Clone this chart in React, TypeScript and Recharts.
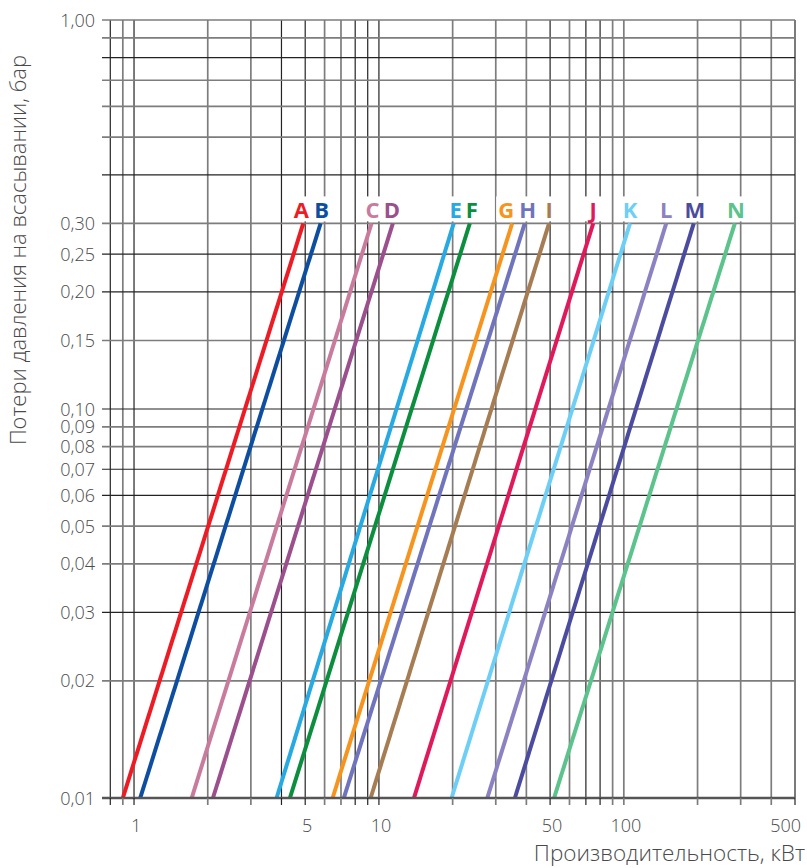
import React from 'react';
import { LineChart, Line, XAxis, YAxis, ReferenceLine, LabelList } from 'recharts';

// ---- data ----
const seriesNames = ['A', 'B', 'C', 'D', 'E', 'F', 'G', 'H', 'I', 'J', 'K', 'L', 'M', 'N'];
const seriesColors = [
  '#ed1c24', '#0d4ea0', '#c97b9d', '#9c4f8d', '#27a9e1', '#0b8f3f', '#f7941d',
  '#6f74bc', '#a67c52', '#e01a5a', '#6dcff6', '#8c82c1', '#4b4c9f', '#5bc38b',
];
// capacity (kW) at the lowest pressure loss (0.01 bar)
const capacityAtMin = [0.90, 1.06, 1.72, 2.10, 3.82, 4.33, 6.47, 7.19, 9.25, 13.9, 19.8, 27.7, 35.9, 51.9];
// capacity (kW) at the highest pressure loss (0.30 bar)
const capacityAtMax = [4.91, 5.78, 9.33, 11.4, 20.2, 23.5, 35.0, 39.4, 49.5, 75.0, 106, 149, 193, 284];
const pressureRange = [0.01, 0.3];

const xGridValues = [0.8, 0.9, 1, 2, 3, 4, 5, 6, 7, 8, 9, 10, 20, 30, 40, 50, 60, 70, 80, 90, 100, 200, 300, 400, 500];
const xTickLabels = [1, 5, 10, 50, 100, 500];
const yGridValues = [0.01, 0.02, 0.03, 0.04, 0.05, 0.06, 0.07, 0.08, 0.09, 0.1, 0.15, 0.2, 0.25, 0.3, 0.4, 0.5, 0.6, 0.7, 0.8, 0.9, 1.0];
const yTickLabels = [0.01, 0.02, 0.03, 0.04, 0.05, 0.06, 0.07, 0.08, 0.09, 0.1, 0.15, 0.2, 0.25, 0.3, 1.0];

const xDomain = [0.74, 500];
const yDomain = [0.01, 1];

// ---- styling ----
const labelNudge = [-2, 1, 1, -1, 2, 2, -6, 3, 0, 0, 0, 0, 1, 1];
const darkX = new Set([0.8, 1, 4, 5, 8, 9, 10, 50, 70, 80, 500]);
const darkY = new Set([0.8, 0.4, 0.25, 0.2, 0.1, 0.07, 0.06, 0.03]);
const DARK = { stroke: '#232323', strokeWidth: 1.2 };
const GRAY = { stroke: '#7d7d7d', strokeWidth: 1.7 };
const TEXT_COLOR = '#4a4a4a';
const FONT = '"Open Sans", "Noto Sans", sans-serif';

const fmtY = (v: number) => v.toFixed(2).replace('.', ',');

const XTick = (props: any) => {
  const { x, y, payload } = props;
  const v = payload.value;
  const st = darkX.has(v) ? DARK : GRAY;
  const isLast = v === xGridValues[xGridValues.length - 1];
  return (
    <g>
      <line x1={x} x2={x} y1={y - 7} y2={y} stroke={st.stroke} strokeWidth={st.strokeWidth} />
      {xTickLabels.includes(v) && (
        <text
          x={isLast ? x + 6 : x + 2}
          y={y + 27}
          textAnchor={isLast ? 'end' : 'middle'}
          fontSize={18}
          fontFamily={FONT}
          fontWeight={300}
          fill={TEXT_COLOR}
        >
          {v}
        </text>
      )}
    </g>
  );
};

const YTick = (props: any) => {
  const { x, y, payload } = props;
  const v = payload.value;
  if (!yTickLabels.includes(v)) return <g />;
  return (
    <text x={x} y={y + 6.5} textAnchor="end" fontSize={18} fontFamily={FONT} fontWeight={300} fill={TEXT_COLOR}>
      {fmtY(v)}
    </text>
  );
};

const makeLabel = (name: string, color: string, nudge: number) => (props: any) => {
  const { x, y, index } = props;
  if (index !== 1) return <g />;
  const cx = x + nudge;
  return (
    <g>
      <rect x={cx - 10} y={y - 27} width={20} height={25} fill="#ffffff" />
      <text x={cx} y={y - 5} textAnchor="middle" fontSize={22} fontWeight={700} fontFamily={FONT} fill={color}>
        {name}
      </text>
    </g>
  );
};

const seriesData = seriesNames.map((name, i) => ({
  name,
  color: seriesColors[i],
  nudge: labelNudge[i],
  points: [
    { x: capacityAtMin[i], y: pressureRange[0] },
    { x: capacityAtMax[i], y: pressureRange[1] },
  ],
}));

export default function App() {
  return (
    <div style={{ position: 'absolute', left: 0, top: 0, width: 807, height: 868, background: '#fff' }}>
      <LineChart width={807} height={868} margin={{ top: 20, right: 12, bottom: 0, left: 0 }}>
        <XAxis
          dataKey="x"
          type="number"
          scale="log"
          domain={xDomain}
          allowDataOverflow
          ticks={xGridValues}
          interval={0}
          tickSize={7}
          tickMargin={0}
          tickLine={false}
          tick={<XTick />}
          axisLine={{ stroke: '#555555', strokeWidth: 2.5 }}
          height={70}
          label={{
            value: 'Производительность, кВт',
            content: (p: any) => {
              const vb = p.viewBox;
              return (
                <text x={vb.x + vb.width + 10} y={vb.y + 63} textAnchor="end" fontSize={22.5} fontFamily={FONT} fontWeight={300} fill={TEXT_COLOR}>
                  Производительность, кВт
                </text>
              );
            },
          }}
        />
        <YAxis
          dataKey="y"
          type="number"
          scale="log"
          domain={yDomain}
          allowDataOverflow
          ticks={yGridValues}
          interval={0}
          tickSize={0}
          tickMargin={7}
          tickLine={false}
          axisLine={false}
          tick={<YTick />}
          width={102}
          label={{
            value: 'Потери давления на всасывании, бар',
            content: (p: any) => {
              const vb = p.viewBox;
              const cx = vb.x + 26;
              const cy = vb.y + 230;
              return (
                <text x={cx} y={cy} transform={`rotate(-90 ${cx} ${cy})`} textAnchor="middle" fontSize={22} fontFamily={FONT} fontWeight={300} fill={TEXT_COLOR}>
                  Потери давления на всасывании, бар
                </text>
              );
            },
          }}
        />
        {xGridValues.map((v) => (
          <ReferenceLine key={'x' + v} x={v} {...(darkX.has(v) ? DARK : GRAY)} />
        ))}
        {yGridValues.filter((v) => v !== yDomain[0]).map((v) => (
          <ReferenceLine key={'y' + v} y={v} {...(darkY.has(v) ? DARK : GRAY)} />
        ))}
        {seriesData.map((s) => (
          <Line
            key={s.name}
            data={s.points}
            dataKey="y"
            type="linear"
            stroke={s.color}
            strokeWidth={4}
            dot={false}
            activeDot={false}
            isAnimationActive={false}
          >
            <LabelList dataKey="y" content={makeLabel(s.name, s.color, s.nudge)} />
          </Line>
        ))}
      </LineChart>
    </div>
  );
}
